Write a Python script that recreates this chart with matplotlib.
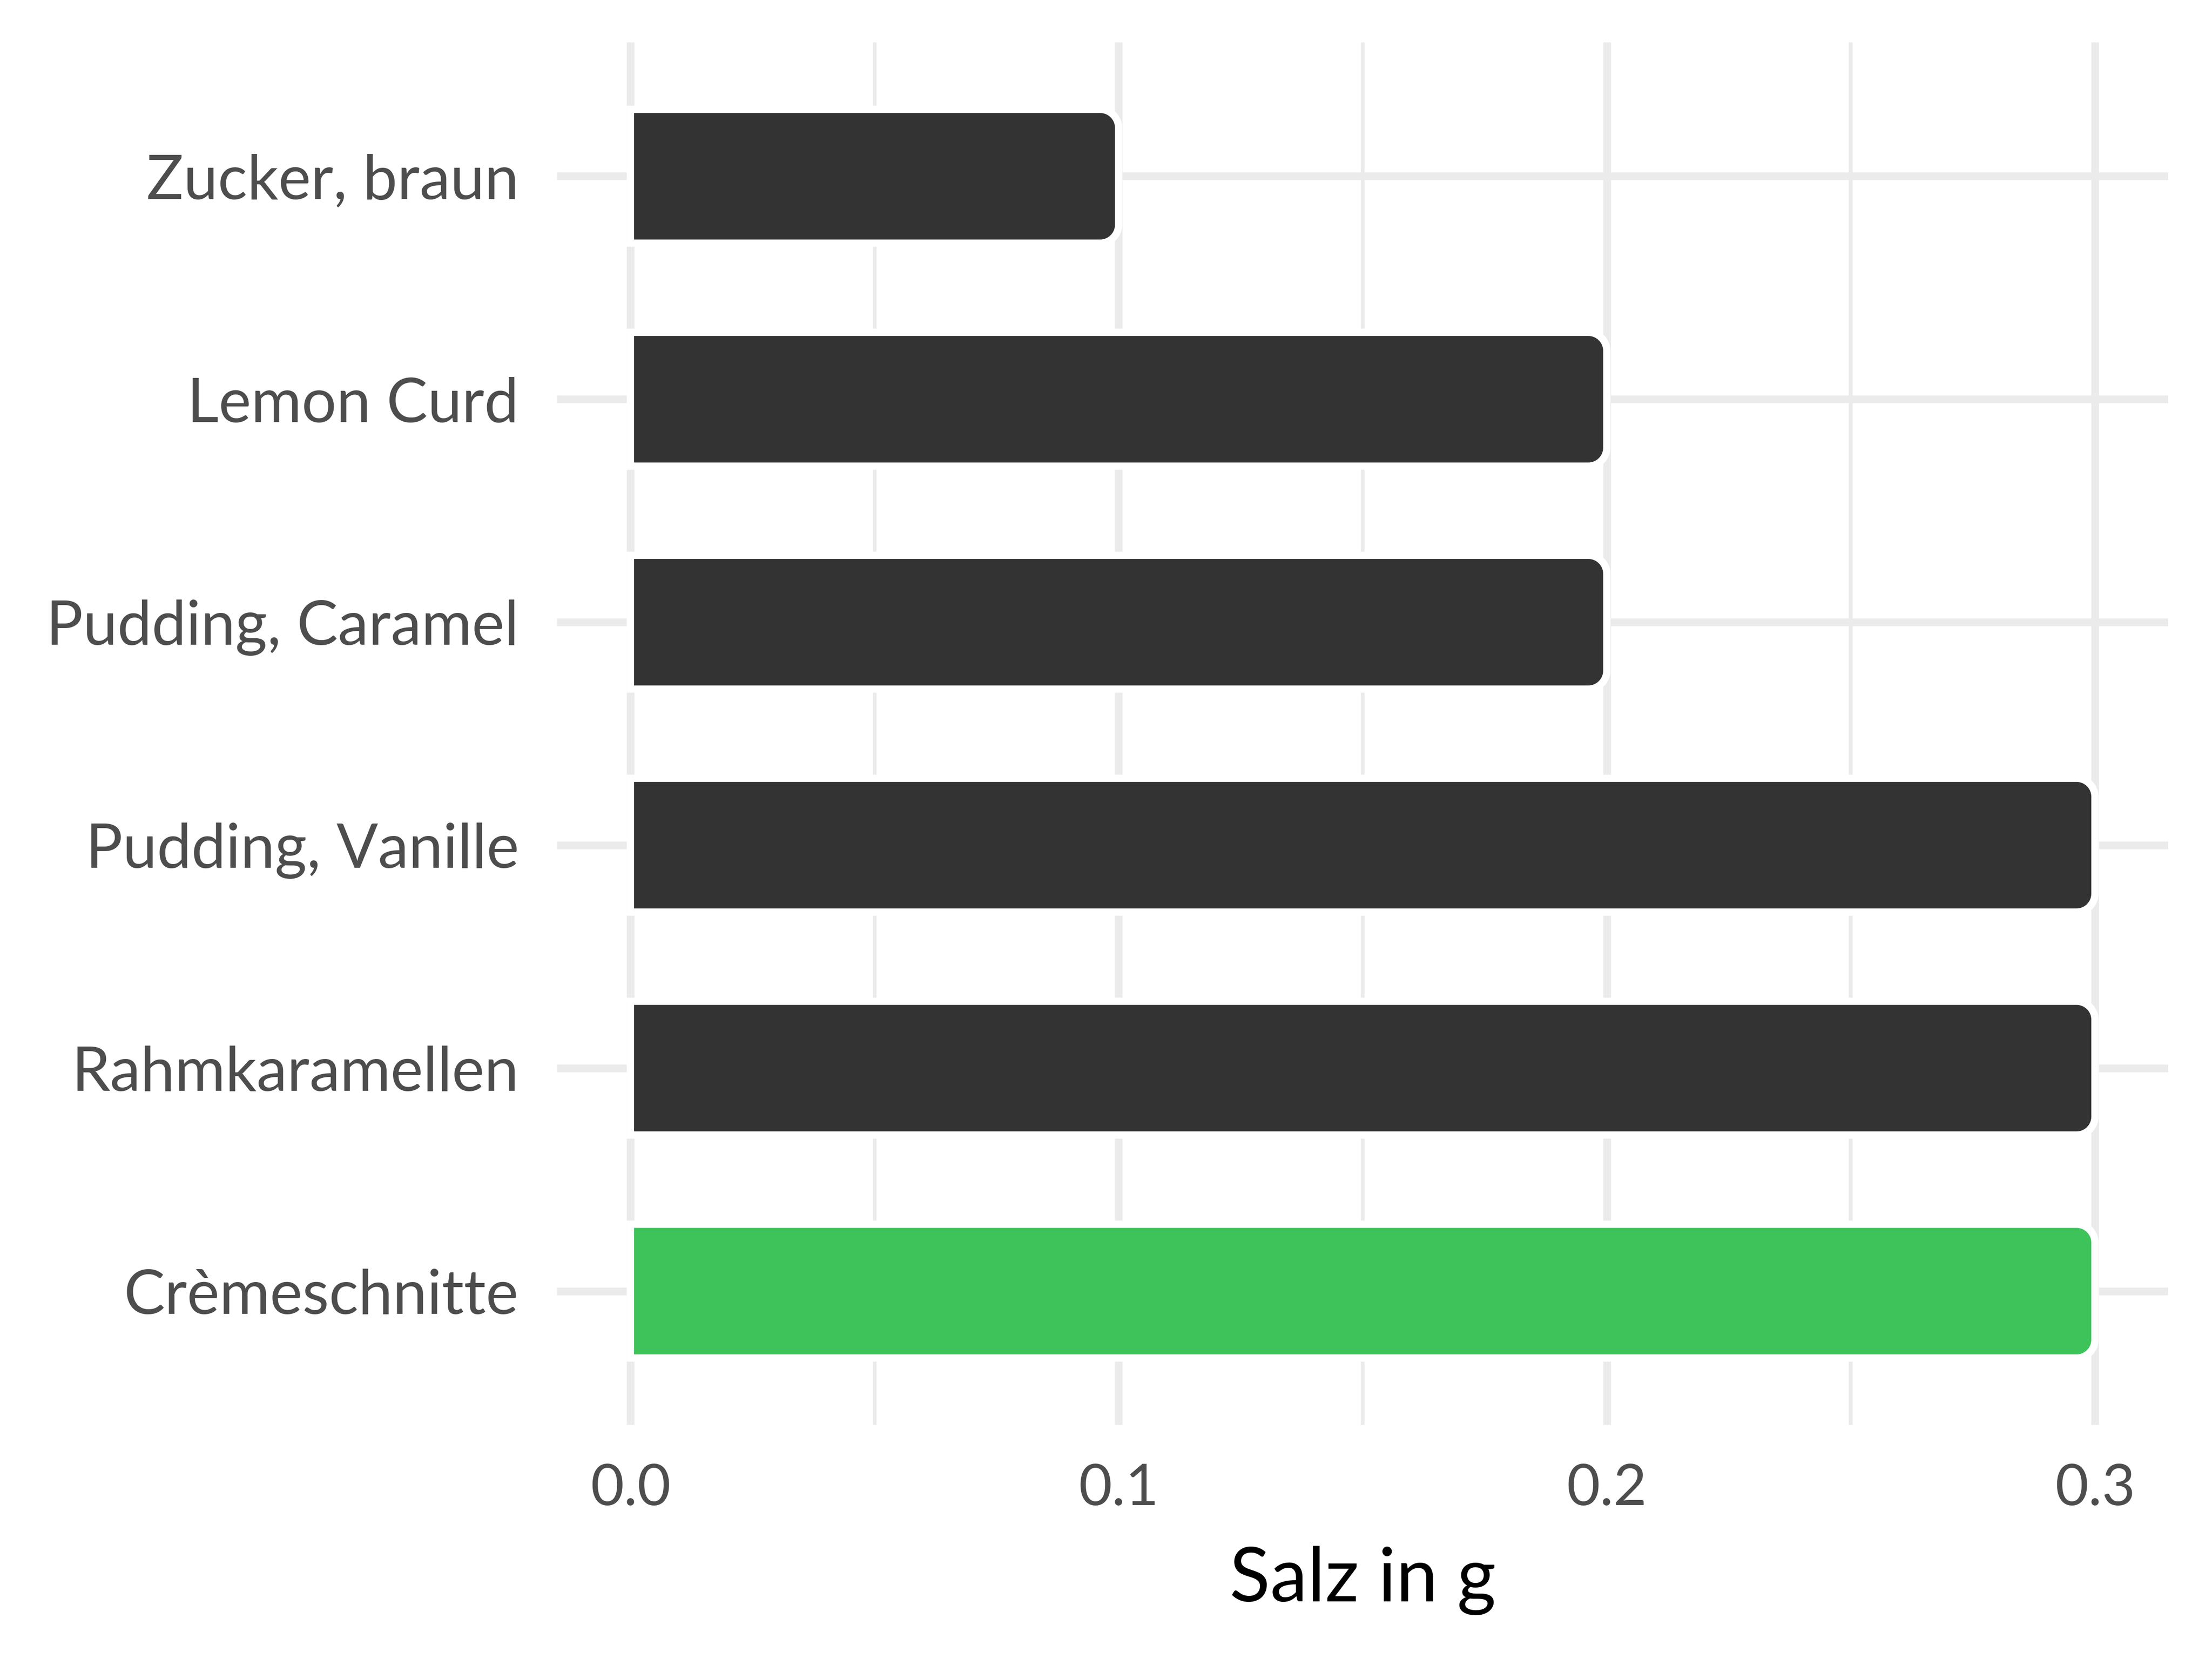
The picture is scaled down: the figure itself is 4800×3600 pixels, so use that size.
import matplotlib
matplotlib.use("Agg")
import matplotlib.pyplot as plt
from matplotlib.path import Path
from matplotlib.patches import PathPatch
from matplotlib.ticker import MultipleLocator

plt.rcParams["font.family"] = ["Lato", "DejaVu Sans"]

# top to bottom, as in the picture
CATEGORIES = ["Zucker, braun", "Lemon Curd", "Pudding, Caramel", "Pudding, Vanille", "Rahmkaramellen", "Crèmeschnitte"]
SALT = [0.1, 0.2, 0.2, 0.3, 0.3, 0.3]
HIGHLIGHT = "Crèmeschnitte"
X_TICKS = [0.0, 0.1, 0.2, 0.3]
X_TICK_LABELS = ["0.0", "0.1", "0.2", "0.3"]

DARK = "#333333"
GREEN = "#3EC35A"
GRID = "#EBEBEB"
TEXT = "#4D4D4D"


def rounded_right(rect, axis, radius_px):
    # replace a barh rectangle with one whose right end is rounded
    x0, y0 = rect.get_x(), rect.get_y()
    x1, y1 = x0 + rect.get_width(), y0 + rect.get_height()
    inv = axis.transData.inverted()
    p0 = inv.transform((0, 0))
    p1 = inv.transform((radius_px, radius_px))
    rx, ry = abs(p1[0] - p0[0]), abs(p1[1] - p0[1])
    k = 0.5523
    verts = [
        (x0, y0), (x1 - rx, y0),
        (x1 - rx + k * rx, y0), (x1, y0 + ry - k * ry), (x1, y0 + ry),
        (x1, y1 - ry),
        (x1, y1 - ry + k * ry), (x1 - rx + k * rx, y1), (x1 - rx, y1),
        (x0, y1), (x0, y0),
    ]
    codes = [Path.MOVETO, Path.LINETO,
             Path.CURVE4, Path.CURVE4, Path.CURVE4,
             Path.LINETO,
             Path.CURVE4, Path.CURVE4, Path.CURVE4,
             Path.LINETO, Path.CLOSEPOLY]
    return PathPatch(Path(verts, codes), facecolor=rect.get_facecolor(),
                     edgecolor="white", linewidth=3.8, zorder=3)


figure = plt.figure(figsize=(16, 12), dpi=300)
axis = figure.add_axes([0.2519, 0.1411, 0.7283, 0.8333])

positions = list(range(len(CATEGORIES)))[::-1]
colors = [GREEN if name == HIGHLIGHT else DARK for name in CATEGORIES]
bars = axis.barh(positions, SALT, height=0.6, color=colors)

axis.set_xlim(-0.015, 0.315)
axis.set_ylim(-0.6, len(CATEGORIES) - 0.4)

for rect in list(bars.patches):
    patch = rounded_right(rect, axis, 40)
    rect.remove()
    axis.add_patch(patch)

axis.set_xticks(X_TICKS)
axis.set_xticklabels(X_TICK_LABELS)
axis.xaxis.set_minor_locator(MultipleLocator(0.05))
axis.set_yticks(positions)
axis.set_yticklabels(CATEGORIES)

axis.set_axisbelow(True)
axis.grid(True, which="major", axis="both", color=GRID, linewidth=4.0)
axis.grid(True, which="minor", axis="x", color=GRID, linewidth=2.0)
for spine in axis.spines.values():
    spine.set_visible(False)

axis.tick_params(axis="both", which="both", length=0, labelcolor=TEXT)
axis.tick_params(axis="y", labelsize=32, pad=20)
axis.tick_params(axis="x", labelsize=30, pad=20)
axis.set_xlabel("Salz in g", fontsize=39, color="black", labelpad=16)

figure.savefig("out.png", dpi=300, facecolor="white")
plt.close(figure)
